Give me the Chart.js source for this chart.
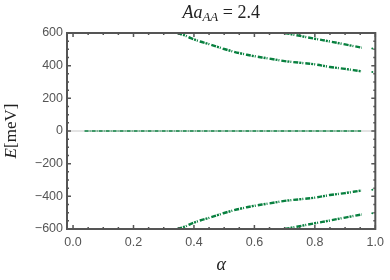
<!DOCTYPE html>
<html>
<head>
<meta charset="utf-8">
<script src="https://cdn.jsdelivr.net/npm/chart.js@4"></script>
<style>
  html, body { margin: 0; padding: 0; background: #fff; }
  #wrap { width: 390px; height: 280px; }
</style>
</head>
<body>
<div id="wrap"><canvas id="myChart" width="390" height="280"></canvas></div>
<script>
// values
var xTicks = [0, 0.2, 0.4, 0.6, 0.8, 1.0];
var yTicks = [-600, -400, -200, 0, 200, 400, 600];

var zeroAlpha = [0.038, 0.953];
var zeroE = [0, 0];

var upper1Alpha = [0.345, 0.37, 0.39, 0.42, 0.45, 0.48, 0.50, 0.55, 0.60, 0.65, 0.70, 0.75, 0.80, 0.85, 0.90, 0.955];
var upper1E     = [600, 585, 568, 548, 532, 514, 502, 477, 458, 443, 428, 418, 408, 392, 380, 365];
var upper2Alpha = [0.70, 0.74, 0.80, 0.85, 0.90, 0.955];
var upper2E     = [600, 586, 565, 548, 530, 510];

var lower1Alpha = [0.345, 0.37, 0.39, 0.42, 0.45, 0.48, 0.50, 0.55, 0.60, 0.65, 0.70, 0.75, 0.80, 0.85, 0.90, 0.955];
var lower1E     = [-600, -585, -568, -548, -532, -514, -502, -477, -458, -443, -428, -418, -408, -392, -380, -364];
var lower2Alpha = [0.70, 0.74, 0.80, 0.85, 0.90, 0.955];
var lower2E     = [-600, -586, -565, -548, -530, -511];

var endAlpha = [0.99, 0.99, 0.99, 0.99];
var endE     = [361, 505, -360, -503];

var green = '#08803f';

function pts(xs, ys) {
  return xs.map(function (x, i) { return { x: x, y: ys[i] }; });
}

function band(xs, ys, w, dash) {
  return {
    data: pts(xs, ys),
    showLine: true,
    borderColor: green,
    borderWidth: w,
    borderDash: dash,
    pointRadius: 0,
    tension: 0.35
  };
}

// frame, inside ticks, zero axis, titles
var framePlugin = {
  id: 'frame',
  beforeDatasetsDraw: function (chart) {
    var c = chart.ctx, a = chart.chartArea, y = chart.scales.y;
    var y0 = y.getPixelForValue(0);
    c.save();
    c.strokeStyle = '#c8c8c8';
    c.lineWidth = 1;
    c.beginPath();
    c.moveTo(a.left, y0);
    c.lineTo(a.right, y0);
    c.stroke();
    c.restore();
  },
  afterDraw: function (chart) {
    var c = chart.ctx, a = chart.chartArea;
    var x = chart.scales.x, y = chart.scales.y;
    c.save();
    c.strokeStyle = '#555';
    c.lineWidth = 2;
    c.strokeRect(a.left, a.top, a.right - a.left, a.bottom - a.top);

    c.lineWidth = 1.5;
    c.beginPath();
    var i, v, p, len;
    for (i = 0; i <= 20; i++) {
      v = i * 0.05;
      p = x.getPixelForValue(v);
      len = (i % 4 === 0) ? 4 : 2;
      c.moveTo(p, a.bottom); c.lineTo(p, a.bottom - len);
      c.moveTo(p, a.top); c.lineTo(p, a.top + len);
    }
    for (i = -12; i <= 12; i++) {
      v = i * 50;
      p = y.getPixelForValue(v);
      len = (i % 4 === 0) ? 4 : 2;
      c.moveTo(a.left, p); c.lineTo(a.left + len, p);
      c.moveTo(a.right, p); c.lineTo(a.right - len, p);
    }
    c.stroke();

    // title  Aa_AA = 2.4
    c.fillStyle = '#222';
    c.textBaseline = 'alphabetic';
    var cx = (a.left + a.right) / 2;
    var f1 = 'italic 18px "Liberation Serif"', f2 = 'italic 13px "Liberation Serif"', f3 = '18px "Liberation Serif"';
    c.font = f1; var w1 = c.measureText('Aa').width;
    c.font = f2; var w2 = c.measureText('AA').width;
    c.font = f3; var w3 = c.measureText(' = 2.4').width;
    var sx = cx - (w1 + w2 + w3) / 2, by = 18;
    c.font = f1; c.fillText('Aa', sx, by);
    c.font = f2; c.fillText('AA', sx + w1, by + 3);
    c.font = f3; c.fillText(' = 2.4', sx + w1 + w2, by);

    // x title
    c.font = 'italic 18px "Liberation Serif"';
    c.textAlign = 'center';
    c.fillText('\u03b1', cx, 270);

    // y title
    c.translate(16, (a.top + a.bottom) / 2);
    c.rotate(-Math.PI / 2);
    c.textAlign = 'left';
    c.font = 'italic 17px "Liberation Serif"'; var we = c.measureText('E').width;
    c.font = '17px "Liberation Serif"'; var wr = c.measureText('[meV]').width;
    var tx = -(we + wr) / 2;
    c.font = 'italic 17px "Liberation Serif"'; c.fillText('E', tx, 0);
    c.font = '17px "Liberation Serif"'; c.fillText('[meV]', tx + we, 0);
    c.restore();
  }
};

var ctx = document.getElementById('myChart').getContext('2d');

var myChart = new Chart(ctx, {
  type: 'scatter',
  data: {
    datasets: [
      band(zeroAlpha, zeroE, 1.5, [4, 1, 1, 1]),
      band(upper1Alpha, upper1E, 2.4, [5, 1, 2, 1, 1, 2]),
      band(upper2Alpha, upper2E, 2.4, [5, 1, 2, 1, 1, 2]),
      band(lower1Alpha, lower1E, 2.4, [5, 1, 2, 1, 1, 2]),
      band(lower2Alpha, lower2E, 2.4, [5, 1, 2, 1, 1, 2]),
      {
        data: pts(endAlpha, endE),
        showLine: false,
        pointRadius: 1,
        pointBorderWidth: 0,
        backgroundColor: green
      }
    ]
  },
  options: {
    responsive: false,
    animation: false,
    layout: { padding: { top: 33, right: 9, left: 0, bottom: 0 } },
    plugins: {
      legend: { display: false },
      tooltip: { enabled: false }
    },
    scales: {
      x: {
        type: 'linear',
        min: -0.02,
        max: 1.0,
        afterFit: function (s) { s.height = 51; },
        afterBuildTicks: function (s) { s.ticks = xTicks.map(function (v) { return { value: v }; }); },
        grid: { display: false, drawTicks: false },
        border: { display: false },
        ticks: {
          padding: 6,
          color: '#555',
          font: { family: 'Liberation Sans', size: 12.5 },
          callback: function (v) { return v.toFixed(1); }
        }
      },
      y: {
        min: -600,
        max: 600,
        afterFit: function (s) { s.width = 67; },
        afterBuildTicks: function (s) { s.ticks = yTicks.map(function (v) { return { value: v }; }); },
        grid: { display: false, drawTicks: false },
        border: { display: false },
        ticks: {
          padding: 4,
          color: '#555',
          font: { family: 'Liberation Sans', size: 12.5 },
          callback: function (v) { return v < 0 ? '\u2212' + Math.abs(v) : String(v); }
        }
      }
    }
  },
  plugins: [framePlugin]
});
</script>
</body>
</html>
